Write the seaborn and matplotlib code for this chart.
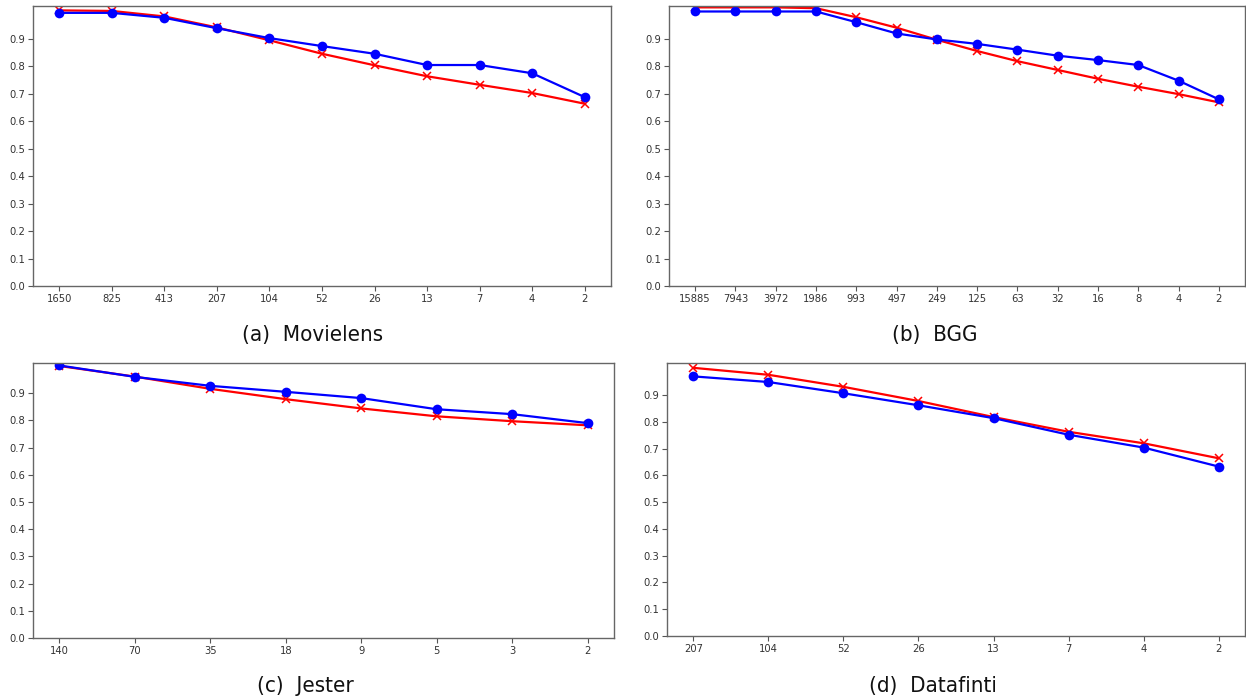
import numpy as np
import matplotlib
matplotlib.use("Agg")
import matplotlib.pyplot as plt
import seaborn as sns
import pandas as pd

# tick labels (number of groups) per dataset
movielens_x = ["1650", "825", "413", "207", "104", "52", "26", "13", "7", "4", "2"]
movielens_blue = [0.995, 0.995, 0.977, 0.939, 0.903, 0.874, 0.846, 0.805, 0.805, 0.775, 0.688]
movielens_red = [1.004, 1.002, 0.982, 0.942, 0.895, 0.846, 0.804, 0.764, 0.733, 0.703, 0.664]

bgg_x = ["15885", "7943", "3972", "1986", "993", "497", "249", "125", "63", "32", "16", "8", "4", "2"]
bgg_blue = [1.0, 1.0, 1.0, 1.0, 0.961, 0.920, 0.898, 0.882, 0.861, 0.839, 0.823, 0.805, 0.748, 0.680]
bgg_red = [1.015, 1.015, 1.015, 1.012, 0.979, 0.941, 0.897, 0.856, 0.819, 0.787, 0.755, 0.726, 0.699, 0.669]

jester_x = ["140", "70", "35", "18", "9", "5", "3", "2"]
jester_blue = [1.002, 0.960, 0.927, 0.905, 0.882, 0.841, 0.823, 0.790]
jester_red = [1.0, 0.961, 0.916, 0.878, 0.844, 0.815, 0.797, 0.782]

datafinti_x = ["207", "104", "52", "26", "13", "7", "4", "2"]
datafinti_blue = [0.970, 0.949, 0.907, 0.862, 0.814, 0.752, 0.704, 0.633]
datafinti_red = [1.002, 0.976, 0.931, 0.878, 0.818, 0.763, 0.720, 0.664]

captions = ["(a)  Movielens", "(b)  BGG", "(c)  Jester", "(d)  Datafinti"]

sns.set_style("white")

W, H = 1246, 697
fig = plt.figure(figsize=(W / 100, H / 100), dpi=100)


def px_axes(left, top, right, bottom):
    return fig.add_axes([left / W, 1 - bottom / H, (right - left) / W, (bottom - top) / H])


panels = [
    (movielens_x, movielens_blue, movielens_red, (33, 6, 611, 286), 1.02),
    (bgg_x, bgg_blue, bgg_red, (669, 6, 1245, 286), 1.02),
    (jester_x, jester_blue, jester_red, (33, 363, 614, 638), 1.011),
    (datafinti_x, datafinti_blue, datafinti_red, (667, 363, 1245, 636), 1.02),
]
caption_pos = [(313, 335), (935, 335), (305, 686), (933, 686)]

for (labels, blue, red, box, top), cap, (cx, cy) in zip(panels, captions, caption_pos):
    ax = px_axes(*box)
    df = pd.DataFrame({"pos": np.arange(len(labels)), "blue": blue, "red": red})
    sns.lineplot(data=df, x="pos", y="red", ax=ax, color="r", marker="x",
                 markersize=5.5, markeredgewidth=1.1, markeredgecolor="r", linewidth=1.6)
    sns.lineplot(data=df, x="pos", y="blue", ax=ax, color="b", marker="o",
                 markersize=7, markeredgewidth=0, markeredgecolor="b", linewidth=1.6)
    ax.set_xticks(df["pos"])
    ax.set_xticklabels(labels, fontstretch="condensed")
    yt = np.arange(0, 1.0, 0.1)
    ax.set_yticks(yt)
    ax.set_yticklabels([f"{v:.1f}" for v in yt], fontstretch="condensed")
    ax.set_ylim(0, top)
    ax.set_xlabel("")
    ax.set_ylabel("")
    for s in ax.spines.values():
        s.set_color("#666666")
        s.set_linewidth(1.0)
    ax.tick_params(axis="both", which="both", length=3.5, width=0.8, color="#555555",
                   labelsize=8, labelcolor="#333333", bottom=True, left=True, pad=2)
    fig.text(cx / W, 1 - cy / H, cap, ha="center", va="center", fontsize=16,
             family="DejaVu Sans", fontstretch="condensed", color="#111111")

fig.savefig("out.png", dpi=100)
